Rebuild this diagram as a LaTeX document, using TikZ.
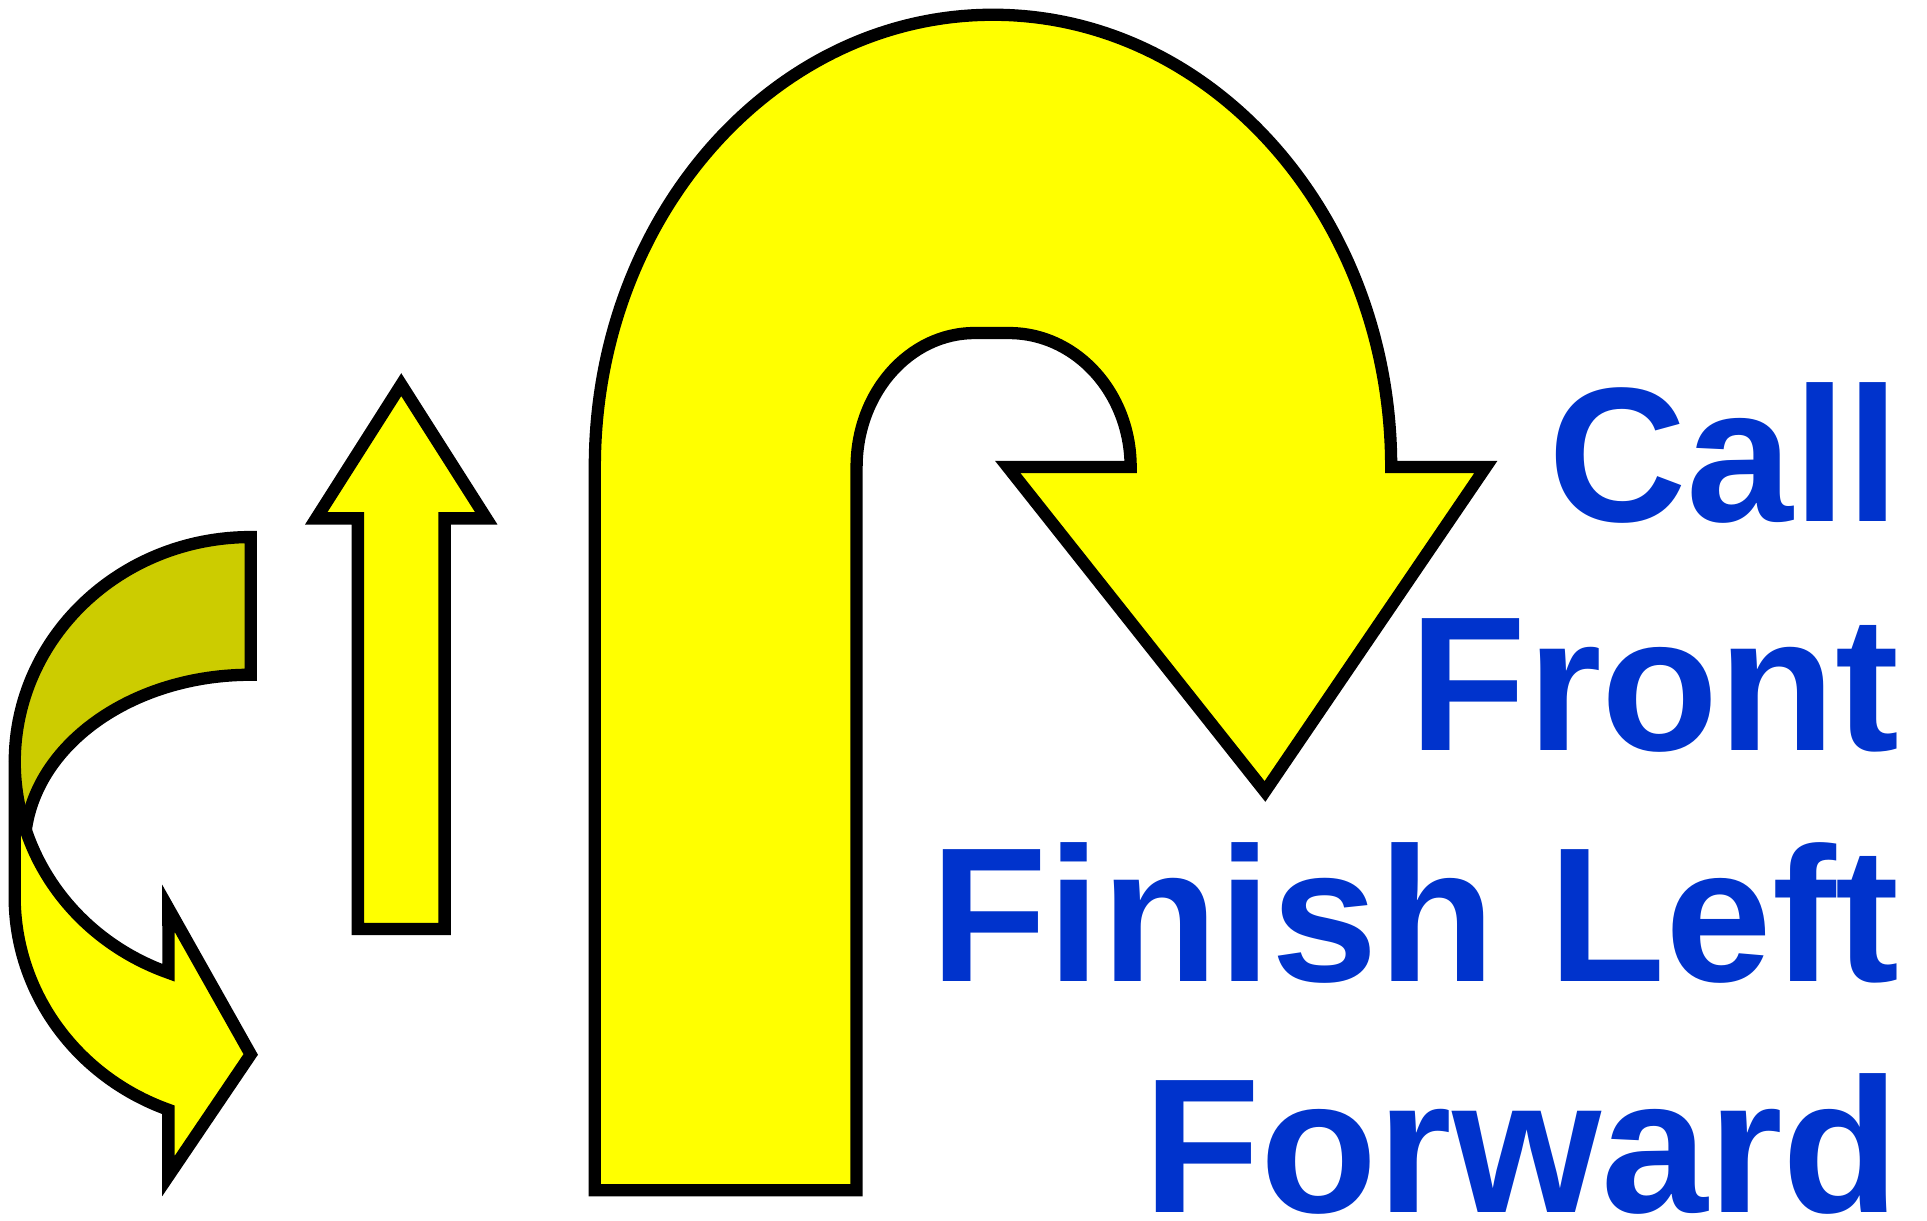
\documentclass[tikz,border=0pt]{standalone}
\usepackage{fontspec}
\setmainfont{Liberation Sans}
\definecolor{arrowyellow}{HTML}{FFFF00}
\definecolor{arrowolive}{HTML}{CCCC00}
\definecolor{textblue}{HTML}{0033CC}
\tikzset{
  shapeline/.style={draw=black, line width=10pt, miter limit=10},
  yellowshape/.style={shapeline, fill=arrowyellow},
  olivefill/.style={fill=arrowolive},
  label/.style={text=textblue, font=\fontsize{156}{187}\selectfont\bfseries, inner sep=0pt, anchor=base east}
}
\begin{document}
\begin{tikzpicture}[x=1pt,y=-1pt]
\useasboundingbox (0,0) rectangle (1568,993);
% left curved arrow: back part (fill, then open outline)
\fill[olivefill] (204,437)
  arc[start angle=-90, end angle=-180, x radius=192, y radius=183]
  arc[start angle=180, end angle=162.4, x radius=192, y radius=183]
  arc[start angle=186, end angle=270, x radius=184, y radius=141]
  -- cycle;
\draw[shapeline] (21,675.3)
  arc[start angle=186, end angle=270, x radius=184, y radius=141]
  -- (204,437)
  arc[start angle=-90, end angle=-180, x radius=192, y radius=183];
% left curved arrow: front part
\draw[yellowshape] (12,620)
  arc[start angle=180, end angle=110.4, x radius=192, y radius=183]
  -- (137,739) -- (204,858) -- (137,957) -- (137,903)
  arc[start angle=110.4, end angle=180, x radius=192, y radius=185]
  -- cycle;
% straight up arrow
\draw[yellowshape] (291.2,756) -- (291.2,421.8) -- (257.3,421.8) -- (326.5,313)
  -- (395.7,421.8) -- (361.8,421.8) -- (361.8,756) -- cycle;
% big U-turn arrow
\draw[yellowshape] (484,968.5) -- (484,380)
  arc[start angle=180, end angle=360, x radius=324, y radius=368]
  -- (1209,380) -- (1029.3,644) -- (820,380) -- (920,380)
  arc[start angle=0, end angle=-90, x radius=99, y radius=109]
  -- (793,271)
  arc[start angle=-90, end angle=-180, x radius=96, y radius=109]
  -- (697,968.5) -- cycle;
% labels
\node[label] (call) at (1546,424) {Call};
\node[label] (front) at (1546,611) {Front};
\node[label] (finish) at (1546,799) {Finish Left};
\node[label] (forward) at (1546,987) {Forward};
\end{tikzpicture}
\end{document}
